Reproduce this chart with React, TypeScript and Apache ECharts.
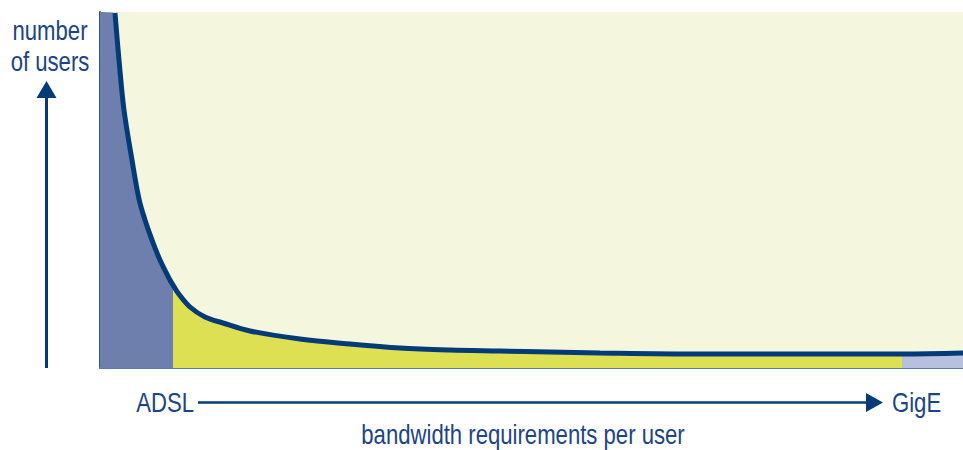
import React, { useEffect, useRef } from "react";
import * as echarts from "echarts";

// bandwidth requirement (relative units along the axis, ADSL at 0 → GigE at the right edge)
const bandwidth = [15, 19, 24, 32, 39, 45, 52, 60, 70, 73, 78, 90, 105, 123, 150, 200, 250, 300, 350, 400, 450, 500, 600, 700, 802, 863];
// number of users (relative units)
const users = [355, 308, 258, 208, 169, 148, 128, 108, 88, 83, 75, 61, 51, 45, 37, 29, 24, 20, 18, 17, 16, 15, 14, 14, 14, 15];
// off-chart start of the curve (it leaves the plot through the top)
const curveStart = [0, 356];

const axisMax = { x: 863, y: 356 };
const bands = { adslEnd: 73, gigeStart: 802 };

const xTitle = "bandwidth requirements per user";
const yTitle = ["number", "of users"];
const xStartLabel = "ADSL";
const xEndLabel = "GigE";

const FONT = '"Liberation Sans", Arial, sans-serif';
const TEXT_COLOR = "#1B4585";
const NAVY = "#033B79";
const NARROW = 0.82;

export default function App() {
  const ref = useRef<HTMLDivElement>(null);
  useEffect(() => {
    if (!ref.current) return;
    const chart = echarts.init(ref.current, undefined, { renderer: "svg" });
    const curve = bandwidth.map((b, i) => [b, users[i]]);
    const fill = [curveStart, ...curve];
    const label = (text: string, x: number, y: number, align: string) => ({
      type: "text",
      x,
      y,
      scaleX: NARROW,
      style: {
        text,
        x: 0,
        y: 0,
        font: `27px ${FONT}`,
        fill: TEXT_COLOR,
        textAlign: align,
        textVerticalAlign: "middle",
      },
    });
    chart.setOption({
      animation: false,
      grid: {
        left: 100,
        right: 0,
        top: 12,
        bottom: 82,
        show: true,
        backgroundColor: "#F4F7DE",
        borderWidth: 0,
      },
      xAxis: {
        type: "value",
        min: 0,
        max: axisMax.x,
        axisLine: { show: true, lineStyle: { color: "#5C7CA6", width: 2 } },
        axisTick: { show: false },
        axisLabel: { show: false },
        splitLine: { show: false },
      },
      yAxis: {
        type: "value",
        min: 0,
        max: axisMax.y,
        axisLine: { show: true, lineStyle: { color: "#2C548F", width: 2 } },
        axisTick: { show: false },
        axisLabel: { show: false },
        splitLine: { show: false },
      },
      visualMap: {
        type: "piecewise",
        show: false,
        dimension: 0,
        seriesIndex: 0,
        pieces: [
          { lt: bands.adslEnd, color: "#6E7FAE" },
          { gte: bands.adslEnd, lt: bands.gigeStart, color: "#DCE052" },
          { gte: bands.gigeStart, color: "#B7C0DC" },
        ],
      },
      series: [
        {
          type: "line",
          data: fill,
          smooth: 0.35,
          symbol: "none",
          lineStyle: { width: 0 },
          areaStyle: { opacity: 1 },
          silent: true,
          z: 1,
        },
        {
          type: "line",
          data: curve,
          smooth: 0.35,
          symbol: "none",
          lineStyle: { width: 5, color: NAVY },
          silent: true,
          z: 3,
        },
      ],
      graphic: [
        label(yTitle[0], 50, 31, "center"),
        label(yTitle[1], 50, 62, "center"),
        {
          type: "line",
          shape: { x1: 46.5, y1: 368, x2: 46.5, y2: 96 },
          style: { stroke: NAVY, lineWidth: 3 },
        },
        {
          type: "polygon",
          shape: { points: [[36.5, 98], [56.5, 98], [46.5, 81]] },
          style: { fill: NAVY },
        },
        label(xStartLabel, 194, 403, "right"),
        {
          type: "line",
          shape: { x1: 198, y1: 402.5, x2: 868, y2: 402.5 },
          style: { stroke: NAVY, lineWidth: 2.5 },
        },
        {
          type: "polygon",
          shape: { points: [[866, 393], [866, 412], [883, 402.5]] },
          style: { fill: NAVY },
        },
        label(xEndLabel, 892, 403, "left"),
        label(xTitle, 523, 435, "center"),
      ],
    });
    return () => chart.dispose();
  }, []);
  return (
    <div
      ref={ref}
      style={{ position: "fixed", left: 0, top: 0, width: 963, height: 450, background: "#fff" }}
    />
  );
}
